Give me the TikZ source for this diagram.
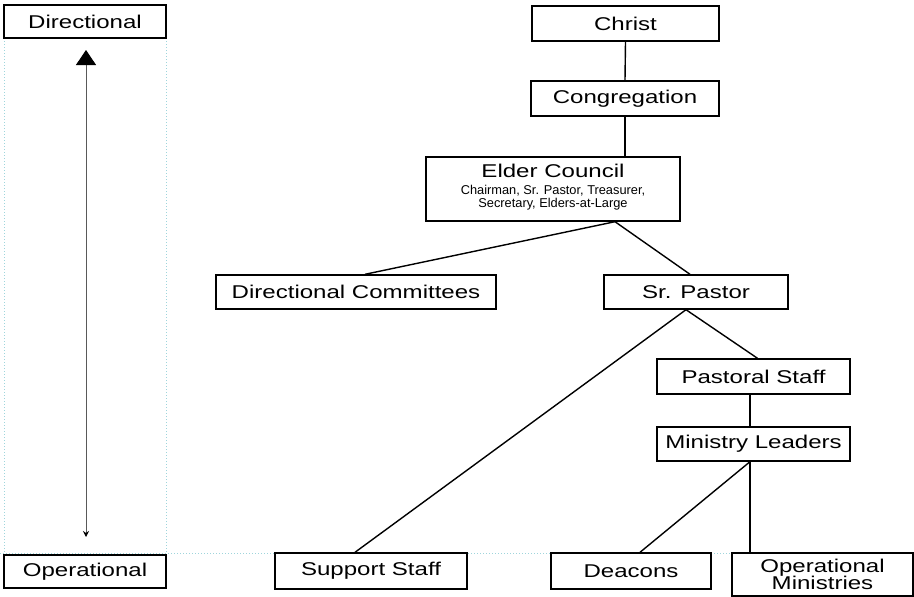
\documentclass[tikz,border=0pt]{standalone}
\usepackage{fontspec}
\setmainfont{Liberation Sans}[FakeStretch=1.3]
\newfontfamily\plainsans{Liberation Sans}
\usetikzlibrary{arrows.meta,calc}
\definecolor{guide}{HTML}{9FD5DC}
\begin{document}
\begin{tikzpicture}[x=1pt,y=-1pt,
  box/.style={draw=black,line width=1.4pt,fill=white,inner sep=0pt,align=center,
    font=\fontsize{18.5}{15}\selectfont},
  lbl/.style={inner sep=0pt,align=center,font=\fontsize{18.5}{16}\selectfont},
  small/.style={inner sep=0pt,align=center,font=\plainsans\fontsize{12.8}{13}\selectfont},
  conn/.style={draw=black,line width=1.4pt},
  guideline/.style={draw=guide,line width=1pt,dotted}]
\useasboundingbox (0,0) rectangle (914,597);
% guide lines
\draw[guideline] (4,38) -- (4,555);
\draw[guideline] (166,38) -- (166,555);
\draw[guideline] (0,553) -- (914,553);
% nodes
\node[box,minimum width=162,minimum height=33] (dir) at (85,21.5) {Directional};
\node[box,minimum width=162,minimum height=33] (op) at (85,571.5) {Operational};
\node[box,minimum width=187,minimum height=35] (christ) at (625.5,23.5) {Christ};
\node[box,minimum width=188,minimum height=35] (cong) at (625,98.5) {Congregation};
\node[box,minimum width=254,minimum height=64] (elder) at (553,189) {};
\node[lbl] (eldert) at (553,171) {Elder Council};
\node[small] (eldersub) at (553,197.5) {Chairman, Sr. Pastor, Treasurer,\\Secretary, Elders-at-Large};
\node[box,minimum width=280,minimum height=34] (dircom) at (356,292) {Directional Committees};
\node[box,minimum width=184,minimum height=34] (srp) at (696,292) {Sr. Pastor};
\node[box,minimum width=193,minimum height=35] (pstaff) at (753.5,376.5) {Pastoral Staff};
\node[box,minimum width=193,minimum height=34] (mlead) at (753.5,444) {Ministry Leaders};
\node[box,minimum width=192,minimum height=36] (supp) at (371,571) {Support Staff};
\node[box,minimum width=160,minimum height=36] (deac) at (631,571) {Deacons};
\node[box,minimum width=181,minimum height=43] (opmin) at (822.5,574.5) {Operational\\[-1pt]Ministries};
% arrow
\coordinate (atop) at (86,50);
\coordinate (abot) at (86,537);
\draw[draw=black!65,line width=1pt,
  {Triangle[width=20pt,length=15pt,fill=black,color=black]}-{Stealth[width=6pt,length=6pt,color=black]}]
  (atop) -- (abot);
% connectors
\draw[conn] (christ.south) -- (cong.north);
\draw[conn] (cong.south) -- (cong.south |- elder.north);
\coordinate (ej) at ([xshift=62]elder.south);
\draw[conn] (ej) -- ([xshift=9]dircom.north);
\draw[conn] (ej) -- ([xshift=-6]srp.north);
\coordinate (sj) at ([xshift=-10]srp.south);
\draw[conn] (sj) -- ([xshift=-16]supp.north);
\draw[conn] (sj) -- ([xshift=4]pstaff.north);
\draw[conn] ([xshift=-3.5]pstaff.south) -- ([xshift=-3.5]mlead.north);
\coordinate (mj) at ([xshift=-3.5]mlead.south);
\draw[conn] (mj) -- ([xshift=9]deac.north);
\draw[conn] (mj) -- (mj |- opmin.north);
\end{tikzpicture}
\end{document}
